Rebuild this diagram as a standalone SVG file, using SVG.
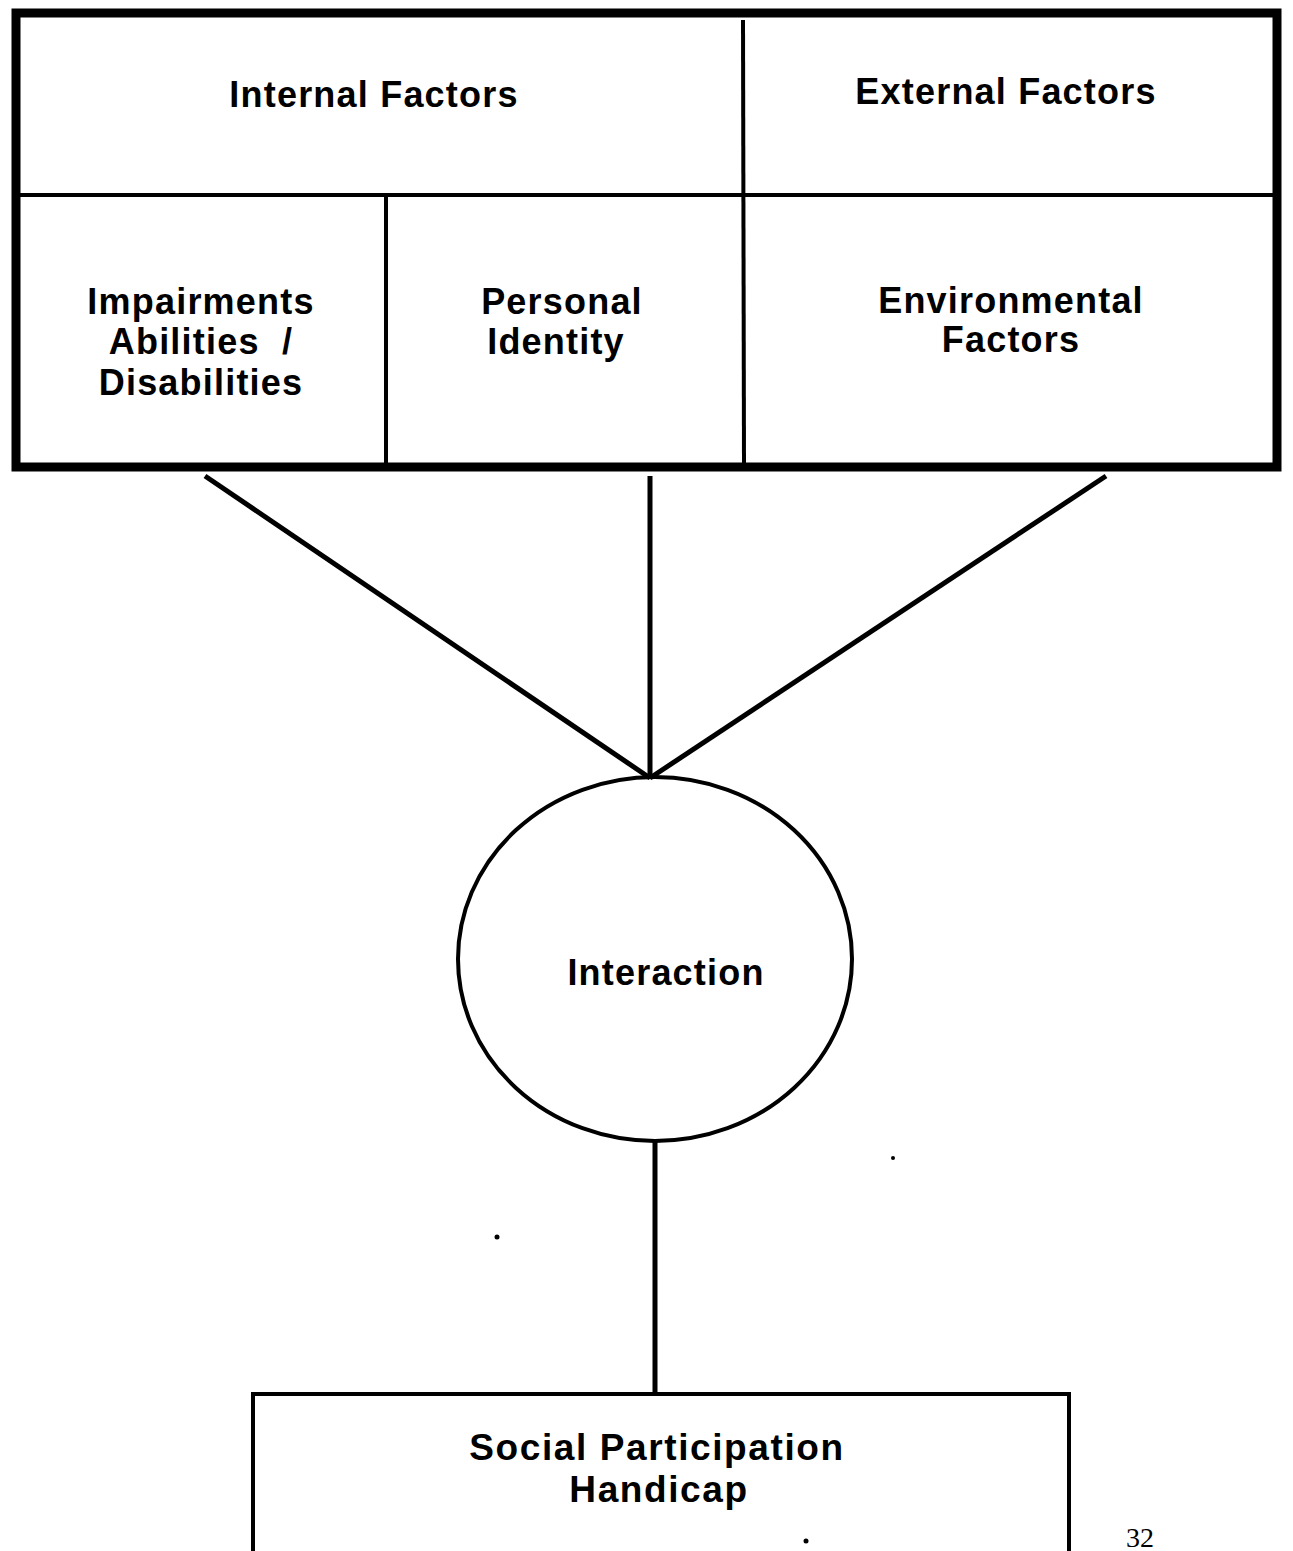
<svg xmlns="http://www.w3.org/2000/svg" width="1293" height="1551" viewBox="0 0 1293 1551">
<style>
.lbl{font-family:"Liberation Sans",Arial,sans-serif;font-weight:bold;font-size:36px;letter-spacing:1.2px;fill:#000;text-anchor:middle}
.big{font-size:37px;letter-spacing:1.6px}
.thin{stroke:#000;stroke-width:4;fill:none}
.conn{stroke:#000;stroke-width:5;fill:none}
</style>
<rect width="1293" height="1551" fill="#fff"/>
<g id="factors-table">
<rect x="16" y="13" width="1261" height="454" fill="#fff" stroke="#000" stroke-width="9"/>
<line class="thin" x1="16" y1="195" x2="1277" y2="195"/>
<line class="thin" x1="743" y1="20" x2="744" y2="464"/>
<line class="thin" x1="386" y1="197" x2="386" y2="463"/>
</g>
<g id="internal-factors"><text class="lbl" x="374" y="107">Internal Factors</text></g>
<g id="external-factors"><text class="lbl" x="1006" y="104">External Factors</text></g>
<g id="impairments"><text class="lbl" x="201" y="314">Impairments</text><text class="lbl" x="201" y="354" xml:space="preserve">Abilities  /</text><text class="lbl" x="201" y="395">Disabilities</text></g>
<g id="personal-identity"><text class="lbl" x="562" y="314">Personal</text><text class="lbl" x="556" y="354">Identity</text></g>
<g id="environmental-factors"><text class="lbl" x="1011" y="313">Environmental</text><text class="lbl" x="1011" y="352">Factors</text></g>
<g id="connectors">
<line class="conn" x1="205" y1="476" x2="650" y2="778"/>
<line class="conn" x1="650" y1="476" x2="650" y2="778"/>
<line class="conn" x1="1106" y1="476" x2="650" y2="778"/>
<line class="conn" x1="655" y1="1142" x2="655" y2="1394"/>
</g>
<g id="interaction">
<ellipse cx="655" cy="959" rx="197" ry="182" fill="none" stroke="#000" stroke-width="4"/>
<text class="lbl" x="666" y="985">Interaction</text>
</g>
<g id="social-participation">
<rect x="253" y="1394" width="816" height="170" fill="none" stroke="#000" stroke-width="4"/>
<text class="lbl big" x="657" y="1460">Social Participation</text>
<text class="lbl big" x="659" y="1502">Handicap</text>
</g>
<circle cx="497" cy="1237" r="2.5" fill="#000"/>
<circle cx="893" cy="1158" r="2" fill="#000"/>
<circle cx="806" cy="1541" r="2.5" fill="#000"/>
<text x="1140" y="1547" font-family="'Liberation Serif',serif" font-size="28" text-anchor="middle">32</text>
</svg>
